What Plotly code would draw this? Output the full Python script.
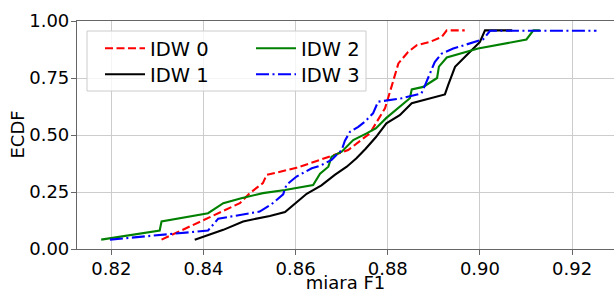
import plotly.graph_objects as go

# ---- data ----
series_names = ["IDW 0", "IDW 1", "IDW 2", "IDW 3"]
series_colors = ["#ff0000", "#000000", "#008000", "#0000ff"]

idw0_x = [0.8309, 0.8392, 0.8479, 0.8501, 0.8529, 0.8537, 0.8602, 0.8653, 0.8714, 0.8761,
          0.8794, 0.8808, 0.8815, 0.8823, 0.8844, 0.8863, 0.8891, 0.8917, 0.8928, 0.8967]
idw0_y = [0.041, 0.119, 0.201, 0.246, 0.289, 0.325, 0.356, 0.391, 0.434, 0.507,
          0.617, 0.711, 0.762, 0.814, 0.864, 0.894, 0.908, 0.930, 0.959, 0.959]

idw1_x = [0.8381, 0.8443, 0.8486, 0.8544, 0.8577, 0.8597, 0.8624, 0.8656, 0.8685, 0.8711,
          0.8732, 0.8752, 0.8774, 0.8797, 0.8826, 0.8852, 0.8891, 0.8924, 0.8931, 0.8946,
          0.8971, 0.9000, 0.9011, 0.9070]
idw1_y = [0.041, 0.084, 0.121, 0.145, 0.162, 0.197, 0.242, 0.279, 0.325, 0.361,
          0.398, 0.440, 0.490, 0.551, 0.587, 0.639, 0.661, 0.678, 0.719, 0.799,
          0.850, 0.908, 0.959, 0.959]

idw2_x = [0.8178, 0.8305, 0.8309, 0.8410, 0.8443, 0.8482, 0.8529, 0.8577, 0.8638, 0.8653,
          0.8671, 0.8678, 0.8700, 0.8725, 0.8754, 0.8774, 0.8797, 0.8848, 0.8852, 0.8877,
          0.8907, 0.8911, 0.8928, 0.8996, 0.9101, 0.9116, 0.9130]
idw2_y = [0.041, 0.081, 0.121, 0.157, 0.201, 0.223, 0.245, 0.259, 0.281, 0.330,
          0.361, 0.405, 0.427, 0.478, 0.507, 0.529, 0.575, 0.661, 0.700, 0.711,
          0.750, 0.800, 0.840, 0.879, 0.919, 0.959, 0.959]

idw3_x = [0.8197, 0.8312, 0.8410, 0.8432, 0.8479, 0.8522, 0.8548, 0.8573, 0.8580, 0.8602,
          0.8635, 0.8653, 0.8678, 0.8700, 0.8707, 0.8718, 0.8736, 0.8750, 0.8768, 0.8779,
          0.8830, 0.8873, 0.8881, 0.8891, 0.8902, 0.8917, 0.8942, 0.9007, 0.9018, 0.9022,
          0.9253]
idw3_y = [0.041, 0.063, 0.081, 0.133, 0.150, 0.164, 0.197, 0.240, 0.281, 0.318,
          0.354, 0.365, 0.391, 0.434, 0.475, 0.514, 0.536, 0.558, 0.595, 0.646,
          0.661, 0.682, 0.719, 0.770, 0.820, 0.857, 0.879, 0.920, 0.945, 0.957,
          0.957]

x_tick_vals = [0.82, 0.84, 0.86, 0.88, 0.90, 0.92]
x_tick_text = ["0.82", "0.84", "0.86", "0.88", "0.90", "0.92"]
y_tick_vals = [0.0, 0.25, 0.5, 0.75, 1.0]
y_tick_text = ["0.00", "0.25", "0.50", "0.75", "1.00"]
x_title = "miara F1"
y_title = "ECDF"

xs = [idw0_x, idw1_x, idw2_x, idw3_x]
ys = [idw0_y, idw1_y, idw2_y, idw3_y]
dashes = ["8px,3.5px", "solid", "solid", "13px,3.5px,2px,3.5px"]
legend_ids = ["legend", "legend2", "legend3", "legend4"]

FONT = "DejaVu Sans"

fig = go.Figure()
for name, color, x, y, dash, lg in zip(series_names, series_colors, xs, ys, dashes, legend_ids):
    fig.add_trace(go.Scatter(
        x=x, y=y, mode="lines", name=name,
        line=dict(color=color, width=2.1, dash=dash),
        legend=lg,
    ))

W, H = 614, 293
ML, MR, MT, MB = 77, 0, 21, 44
pw, ph = W - ML - MR, H - MT - MB

def px2paper_x(px):
    return (px - ML) / pw

def px2paper_y(py):
    return (H - MB - py) / ph

legend_common = dict(
    bgcolor="rgba(0,0,0,0)", borderwidth=0,
    font=dict(family=FONT, size=19.5, color="#000000"),
    orientation="v", xanchor="left", yanchor="top",
    itemclick=False, itemwidth=40,
)

col_x = [100, 251]
row_top = [29, 55]

fig.update_layout(
    width=W, height=H,
    margin=dict(l=ML, r=MR, t=MT, b=MB, pad=0, autoexpand=False),
    paper_bgcolor="white", plot_bgcolor="white",
    font=dict(family=FONT, size=18, color="#000000"),
    showlegend=True,
    legend=dict(x=px2paper_x(col_x[0]), y=px2paper_y(row_top[0]), **legend_common),
    legend2=dict(x=px2paper_x(col_x[0]), y=px2paper_y(row_top[1]), **legend_common),
    legend3=dict(x=px2paper_x(col_x[1]), y=px2paper_y(row_top[0]), **legend_common),
    legend4=dict(x=px2paper_x(col_x[1]), y=px2paper_y(row_top[1]), **legend_common),
    shapes=[dict(
        type="rect", xref="paper", yref="paper",
        x0=px2paper_x(87), x1=px2paper_x(366),
        y0=px2paper_y(91), y1=px2paper_y(31),
        fillcolor="rgba(255,255,255,0.8)",
        line=dict(color="#cccccc", width=1),
        layer="above",
    )],
    annotations=[dict(
        text=y_title, textangle=-90, showarrow=False,
        xref="paper", yref="paper",
        x=px2paper_x(16.5), y=0.5, xanchor="center", yanchor="middle",
        font=dict(family=FONT, size=18, color="#000000"),
    )],
    xaxis=dict(
        range=[0.81255, 0.9291], automargin=False,
        tickvals=x_tick_vals, ticktext=x_tick_text,
        showgrid=True, gridcolor="#cccccc", gridwidth=1,
        showline=True, linecolor="#666666", linewidth=1.2, mirror=True,
        ticks="outside", ticklen=5, tickcolor="#666666",
        ticklabelstandoff=-2,
        tickfont=dict(family=FONT, size=18),
        zeroline=False,
        title=dict(text=x_title, font=dict(family=FONT, size=18), standoff=2),
    ),
    yaxis=dict(
        range=[0, 1], automargin=False,
        tickvals=y_tick_vals, ticktext=y_tick_text,
        showgrid=True, gridcolor="#cccccc", gridwidth=1,
        showline=True, linecolor="#666666", linewidth=1.2, mirror=False,
        ticks="outside", ticklen=5, tickcolor="#666666",
        ticklabelstandoff=-2,
        tickfont=dict(family=FONT, size=18),
        zeroline=False,
    ),
)

fig.write_html(
    "out.html",
    config={"displayModeBar": False},
    post_script="document.body.style.margin='0';document.body.style.padding='0';"
                "document.body.style.overflow='hidden';",
)
